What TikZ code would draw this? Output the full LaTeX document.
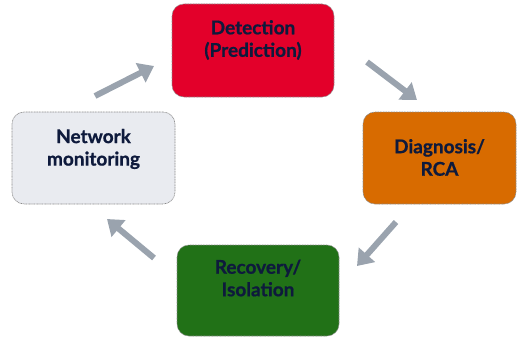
\documentclass[tikz,border=0pt]{standalone}
\usepackage{fontspec}
\setmainfont{Lato}[BoldFeatures={FakeBold=0.8}]
\usetikzlibrary{arrows.meta}
\definecolor{txt}{HTML}{0E1A3C}
\definecolor{detred}{HTML}{E3002A}
\definecolor{diaor}{HTML}{D86B00}
\definecolor{recgr}{HTML}{217117}
\definecolor{netgr}{HTML}{E9EBF0}
\definecolor{arrgr}{HTML}{9AA3AE}
\definecolor{bord}{HTML}{8A8A8A}
\tikzset{
  box/.style={draw=bord, dash pattern=on 1pt off 0.6pt, line width=0.6pt, rounded corners=12pt, inner sep=0pt},
  lbl/.style={text=txt, font=\bfseries\fontsize{19}{22.5}\selectfont, align=center},
  flow/.style={draw=arrgr, line width=6pt, -{Triangle[width=21pt,length=15pt]}}
}
\begin{document}
\begin{tikzpicture}[x=1pt,y=-1pt]
\useasboundingbox (0,0) rectangle (518,337);
\node[box, fill=detred, minimum width=162pt, minimum height=93pt] (det) at (253,50.5) {};
\node[box, fill=netgr, minimum width=163pt, minimum height=92pt] (net) at (93.5,158) {};
\node[box, fill=diaor, minimum width=153pt, minimum height=92pt] (dia) at (439.5,158) {};
\node[box, fill=recgr, minimum width=162pt, minimum height=91pt] (rec) at (258,290.5) {};
\node[lbl] (tdet) at (253,40) {Detection\\(Prediction)};
\node[lbl] (tnet) at (93.5,149) {Network\\monitoring};
\node[lbl] (tdia) at (439.5,157.5) {Diagnosis/\\RCA};
\node[lbl] (trec) at (258,278) {Recovery/\\Isolation};
\coordinate (a1s) at (95,96);
\coordinate (a1e) at (154,66);
\coordinate (a2s) at (367,62);
\coordinate (a2e) at (417,100);
\coordinate (a3s) at (396,222);
\coordinate (a3e) at (357,266);
\coordinate (a4s) at (154,258);
\coordinate (a4e) at (107,219);
\draw[flow] (a1s) -- (a1e);
\draw[flow] (a2s) -- (a2e);
\draw[flow] (a3s) -- (a3e);
\draw[flow] (a4s) -- (a4e);
\end{tikzpicture}
\end{document}
